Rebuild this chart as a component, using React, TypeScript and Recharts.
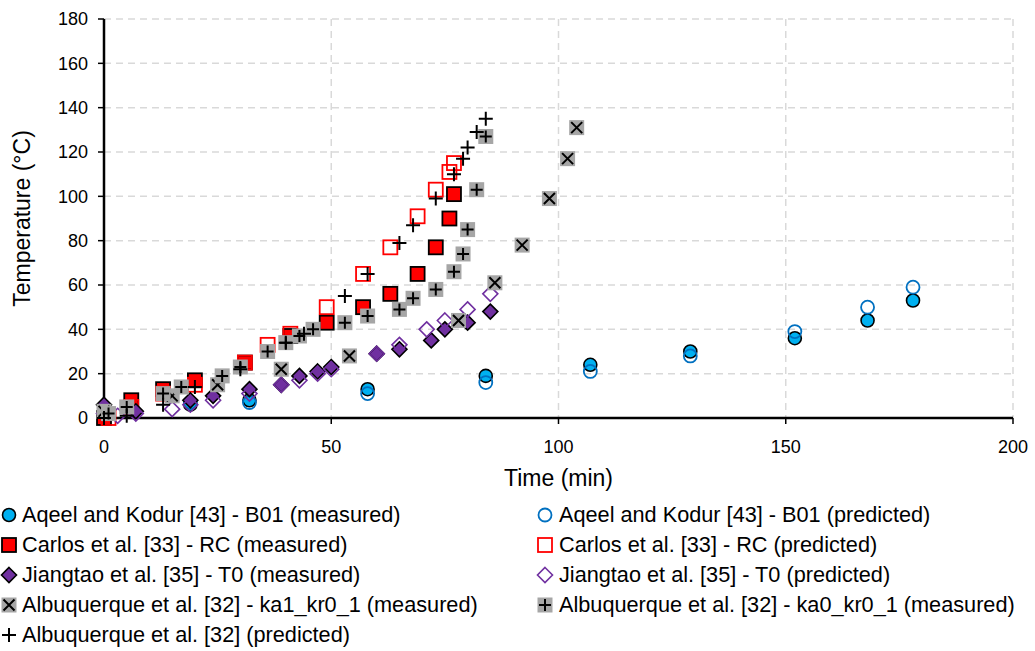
import React from 'react'
import { ScatterChart, Scatter, XAxis, YAxis, CartesianGrid } from 'recharts'

// [time (min), temperature (°C)]
const aqeelMeasured = [[0, 1], [19, 6], [32, 8], [58, 13], [84, 19], [107, 24], [129, 30], [152, 36], [168, 44], [178, 53]]
const aqeelPredicted = [[0, 0], [19, 7], [32, 7], [58, 11], [84, 16], [107, 21], [129, 28], [152, 39], [168, 50], [178, 59]]
const carlosMeasured = [[0, 0], [6, 8], [13, 13], [20, 17], [31, 25], [41, 37], [49, 43], [57, 50], [63, 56], [69, 65], [73, 77], [76, 90], [77, 101]]
const carlosPredicted = [[1, 0], [6, 5], [13, 11], [20, 15], [31, 25], [36, 33], [41, 38], [49, 50], [57, 65], [63, 77], [69, 91], [73, 103], [76, 111], [77, 115]]
const jiangtaoMeasured = [[0, 6], [7, 3], [19, 8], [24, 10], [32, 13], [39, 15], [43, 19], [47, 21], [50, 23], [60, 29], [65, 31], [72, 35], [75, 40], [80, 43], [85, 48]]
const jiangtaoPredicted = [[0, 2], [3, 1], [7, 2], [15, 4], [19, 6], [24, 8], [32, 11], [39, 15], [43, 17], [47, 20], [50, 22], [60, 29], [65, 33], [71, 40], [75, 44], [80, 49], [85, 56]]
const albKa1Measured = [[0, 3], [15, 10], [25, 15], [39, 22], [54, 28], [78, 44], [86, 61], [92, 78], [98, 99], [102, 117], [104, 131]]
const albKa0Measured = [[1, 2], [5, 5], [13, 11], [17, 14], [26, 19], [30, 23], [36, 30], [40, 34], [43, 37], [46, 40], [53, 43], [58, 46], [65, 49], [68, 54], [73, 58], [77, 66], [79, 74], [80, 85], [82, 103], [84, 127]]
const albPredicted = [[0, 0], [5, 1], [13, 6], [20, 14], [30, 22], [40, 34], [44, 38], [53, 55], [58, 65], [65, 79], [68, 87], [73, 99], [77, 110], [79, 117], [80, 122], [82, 129], [84, 135]]

const xTicks = [0, 50, 100, 150, 200]
const yTicks = [0, 20, 40, 60, 80, 100, 120, 140, 160, 180]

const BLUE = '#00b0f0'
const BLUE_LINE = '#0070c0'
const RED = '#ff0000'
const PURPLE = '#7030a0'
const GRAY = '#a6a6a6'
const FONT = '"Liberation Sans", Arial, sans-serif'

type Kind = 'circleFill' | 'circleOpen' | 'squareFill' | 'squareOpen' | 'diamondFill' | 'diamondOpen' | 'grayX' | 'grayPlus' | 'plus'

function Marker({ kind, cx, cy }: { kind: Kind; cx: number; cy: number }) {
  if (cx == null || cy == null) return null
  switch (kind) {
    case 'circleFill':
      return <circle cx={cx} cy={cy} r={6.5} fill={BLUE} stroke="#000" strokeWidth={1.6} />
    case 'circleOpen':
      return <circle cx={cx} cy={cy} r={6.5} fill="none" stroke={BLUE_LINE} strokeWidth={1.8} />
    case 'squareFill':
      return <rect x={cx - 7} y={cy - 7} width={14} height={14} fill={RED} stroke="#000" strokeWidth={1.8} />
    case 'squareOpen':
      return <rect x={cx - 7} y={cy - 7} width={14} height={14} fill="none" stroke={RED} strokeWidth={1.8} />
    case 'diamondFill':
      return <polygon points={`${cx},${cy - 7.5} ${cx + 7.5},${cy} ${cx},${cy + 7.5} ${cx - 7.5},${cy}`} fill={PURPLE} stroke="#000" strokeWidth={1.6} />
    case 'diamondOpen':
      return <polygon points={`${cx},${cy - 7.5} ${cx + 7.5},${cy} ${cx},${cy + 7.5} ${cx - 7.5},${cy}`} fill="none" stroke={PURPLE} strokeWidth={1.6} />
    case 'grayX':
      return (
        <g>
          <rect x={cx - 7.5} y={cy - 7.5} width={15} height={15} fill={GRAY} />
          <path d={`M${cx - 5.5},${cy - 5.5}L${cx + 5.5},${cy + 5.5}M${cx + 5.5},${cy - 5.5}L${cx - 5.5},${cy + 5.5}`} stroke="#000" strokeWidth={2} />
        </g>
      )
    case 'grayPlus':
      return (
        <g>
          <rect x={cx - 7.5} y={cy - 7.5} width={15} height={15} fill={GRAY} />
          <path d={`M${cx - 6},${cy}L${cx + 6},${cy}M${cx},${cy - 6}L${cx},${cy + 6}`} stroke="#000" strokeWidth={2} />
        </g>
      )
    default:
      return <path d={`M${cx - 7},${cy}L${cx + 7},${cy}M${cx},${cy - 7}L${cx},${cy + 7}`} stroke="#000" strokeWidth={2} />
  }
}

const series: { name: string; data: number[][]; kind: Kind }[] = [
  { name: 'Aqeel and Kodur [43] - B01 (measured)', data: aqeelMeasured, kind: 'circleFill' },
  { name: 'Aqeel and Kodur [43] - B01 (predicted)', data: aqeelPredicted, kind: 'circleOpen' },
  { name: 'Carlos et al. [33] - RC (measured)', data: carlosMeasured, kind: 'squareFill' },
  { name: 'Carlos et al. [33] - RC (predicted)', data: carlosPredicted, kind: 'squareOpen' },
  { name: 'Jiangtao et al. [35] - T0 (measured)', data: jiangtaoMeasured, kind: 'diamondFill' },
  { name: 'Jiangtao et al. [35] - T0 (predicted)', data: jiangtaoPredicted, kind: 'diamondOpen' },
  { name: 'Albuquerque et al. [32] - ka1_kr0_1 (measured)', data: albKa1Measured, kind: 'grayX' },
  { name: 'Albuquerque et al. [32] - ka0_kr0_1 (measured)', data: albKa0Measured, kind: 'grayPlus' },
  { name: 'Albuquerque et al. [32] (predicted)', data: albPredicted, kind: 'plus' },
]

function Legend() {
  return (
    <svg width={1035} height={170} style={{ position: 'absolute', left: 0, top: 485 }}>
      {series.map((s, i) => {
        const col = i % 2
        const row = Math.floor(i / 2)
        const sx = col === 0 ? 9 : 545
        const tx = col === 0 ? 22 : 559
        const cy = 30 + row * 30
        return (
          <g key={s.name}>
            <Marker kind={s.kind} cx={sx} cy={cy} />
            <text x={tx} y={cy + 7} fontSize={21.7} fontFamily={FONT} fill="#000">{s.name}</text>
          </g>
        )
      })}
    </svg>
  )
}

export default function App() {
  return (
    <div style={{ position: 'absolute', left: 0, top: 0, width: 1035, height: 651, background: '#fff' }}>
      <ScatterChart width={1035} height={651} margin={{ top: 19, right: 22, bottom: 163, left: 0 }}>
        <CartesianGrid stroke="#d9d9d9" strokeWidth={1.5} strokeDasharray="7 5" />
        <XAxis
          type="number"
          dataKey="x"
          domain={[0, 200]}
          ticks={xTicks}
          height={70}
          axisLine={{ stroke: '#000', strokeWidth: 2.5 }}
          tickLine={{ stroke: '#000', strokeWidth: 1.5 }}
          tickSize={6}
          tickMargin={16}
          tick={{ fontSize: 18, fontFamily: FONT, fill: '#000' }}
          label={{ value: 'Time (min)', position: 'insideBottom', offset: 2, style: { fontSize: 23, fontFamily: FONT, fill: '#000' } }}
        />
        <YAxis
          type="number"
          dataKey="y"
          domain={[0, 180]}
          ticks={yTicks}
          width={104}
          axisLine={{ stroke: '#000', strokeWidth: 2.5 }}
          tickLine={{ stroke: '#000', strokeWidth: 1.5 }}
          tickSize={6}
          tickMargin={10}
          tick={{ fontSize: 18, fontFamily: FONT, fill: '#000' }}
          label={{ value: 'Temperature (°C)', angle: -90, position: 'insideLeft', offset: 22, style: { fontSize: 23, fontFamily: FONT, fill: '#000', textAnchor: 'middle' } }}
        />
        {series.map((s) => (
          <Scatter
            key={s.name}
            name={s.name}
            data={s.data.map(([x, y]) => ({ x, y }))}
            isAnimationActive={false}
            shape={(p: any) => <Marker kind={s.kind} cx={p.cx} cy={p.cy} />}
          />
        ))}
      </ScatterChart>
      <Legend />
    </div>
  )
}
